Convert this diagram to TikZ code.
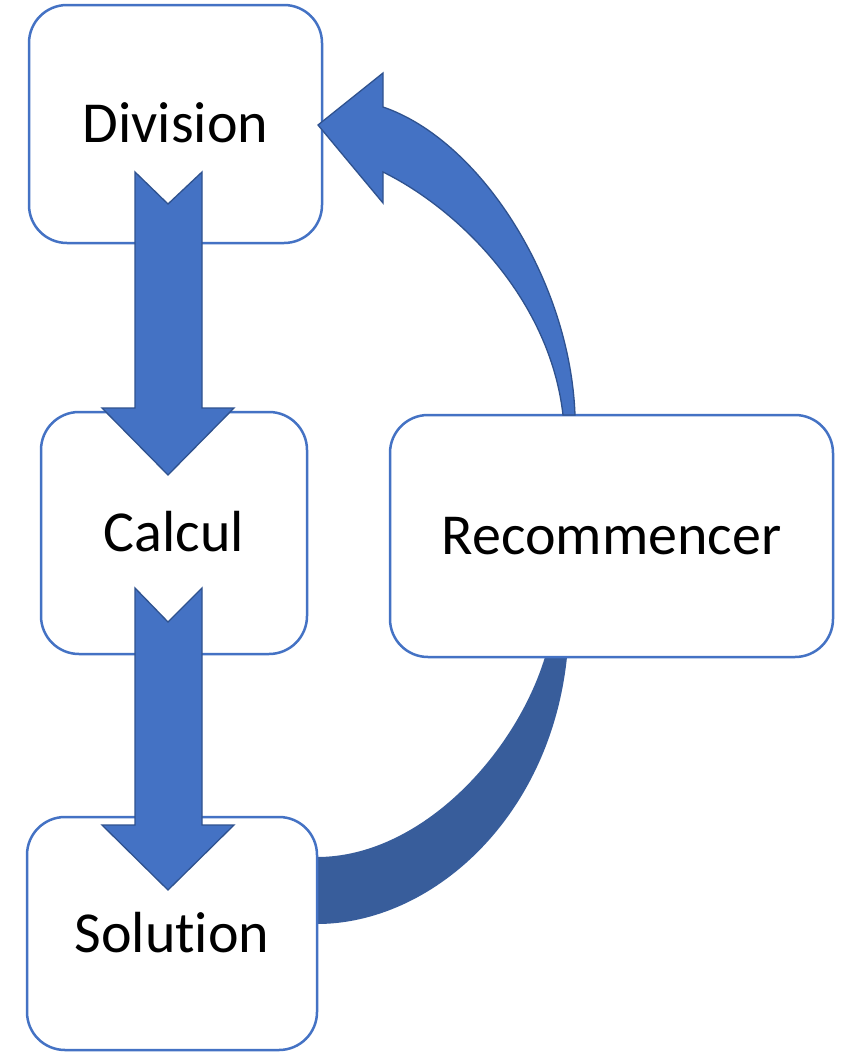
\documentclass[tikz,border=0pt]{standalone}
\usepackage{fontspec}
\setmainfont{Carlito}[RawFeature={-liga;-clig;-dlig}]
\definecolor{boxblue}{HTML}{4472C4}
\definecolor{edgeblue}{HTML}{2F528F}
\definecolor{arcblue}{HTML}{385D9B}
\begin{document}
\begin{tikzpicture}[x=1pt,y=-1pt,
  box/.style={draw=boxblue, line width=2.5pt, fill=white, rounded corners=38pt,
    inner sep=0pt, text height=37pt, text depth=0pt,
    font=\fontsize{58}{70}\selectfont},
  blockarrow/.style={fill=boxblue, draw=edgeblue, line width=1.3pt, line join=miter},
  backarc/.style={fill=arcblue, draw=none}]
\fill[white] (0,0) rectangle (846,1052);
\useasboundingbox (0,0) rectangle (846,1052);

% dark arc from Solution to Recommencer (behind the boxes)
\path[backarc] (317,924) .. controls (430,924) and (550,820) .. (567,657)
  -- (545,657) .. controls (515,755) and (420,857) .. (317,857) -- cycle;

% boxes
\node[box, minimum width=293pt, minimum height=238pt] (div) at (175.5,124) {Division};
\node[box, minimum width=266pt, minimum height=242pt] (cal) at (174,533) {Calcul};
\node[box, minimum width=443pt, minimum height=242pt] (rec) at (611.5,536) {Recommencer};
\node[box, minimum width=290pt, minimum height=233pt] (sol) at (172,933.5) {Solut\kern0pt ion};

% curved arrow from Recommencer back to Division
\path[blockarrow] (575,415) .. controls (570,280) and (480,140) .. (383,107)
  -- (383,73) -- (318,125) -- (383,203) -- (383,172)
  .. controls (460,210) and (550,300) .. (563,415) -- cycle;

% straight notched arrows
\path[blockarrow] (135,172) -- (168,204) -- (202,172) -- (202,408) -- (234,408)
  -- (168,475) -- (102,408) -- (135,408) -- cycle;
\path[blockarrow] (135,588) -- (168,622) -- (202,588) -- (202,825) -- (234,825)
  -- (168,890) -- (102,825) -- (135,825) -- cycle;
\end{tikzpicture}
\end{document}
